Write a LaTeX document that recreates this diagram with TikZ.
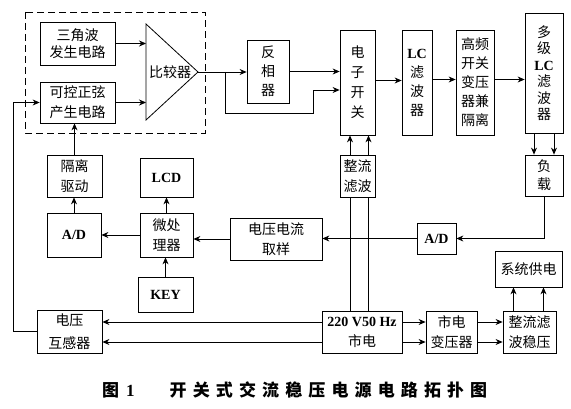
\documentclass[tikz,border=0pt]{standalone}
\usepackage{fontspec}
\newfontfamily\cjk{Noto Sans CJK SC}
\newfontfamily\latfont{Liberation Serif}
\newfontfamily\capfont{Noto Sans CJK SC}[LetterSpace=36]
\usetikzlibrary{arrows.meta, calc}

\begin{document}
\begin{tikzpicture}[x=1pt,y=-1pt]

\tikzstyle{feed}  = [->,>={Stealth[length=7pt,width=6pt]},thick]
\tikzstyle{wire}  = [thick]
\tikzstyle{myblock}  = [
  rectangle,
  draw,
  thick,
  inner sep=0pt,
  align=center,
  font=\cjk\fontsize{14}{20}\selectfont]

\def\en#1{{\latfont\bfseries\fontsize{14}{\the\baselineskip}\selectfont #1}}
\def\blk#1#2#3#4#5#6#7{\node(#5)[myblock,
  minimum width={(#3-#1)*1pt}, minimum height={(#4-#2)*1pt}, #7]
  at ({(#1+#3)/2},{(#2+#4)/2}) {#6};}

\useasboundingbox (0,0) rectangle (571,409);

\draw[thick,dash pattern=on 7pt off 4pt] (25,12) rectangle (205,133);

\blk{40}{22}{115}{65}{tri}{三角波\\发生电路}{font=\cjk\fontsize{14}{17}\selectfont}
\blk{40}{82}{115}{123}{sine}{可控正弦\\产生电路}{}

\draw[thick] (146,24) -- (198,72) -- (146,120) -- cycle;
\coordinate (cin) at (146,72);
\coordinate (cout) at (198,72);
\node(cmp)[font=\cjk\fontsize{14}{20}\selectfont] at (170,72) {比较器};

\blk{247}{40}{289}{103}{inv}{反\\相\\器}{font=\cjk\fontsize{14}{19}\selectfont}
\blk{340}{30}{375}{135}{eswitch}{电\\子\\开\\关}{}
\blk{402}{30}{432}{135}{lc}{\en{LC}\\滤\\波\\器}{font=\cjk\fontsize{14}{19}\selectfont}
\blk{456}{30}{494}{135}{hf}{高频\\开关\\变压\\器兼\\隔离}{font=\cjk\fontsize{14}{19}\selectfont}
\blk{525}{13}{563}{133}{mlc}{多\\级\\\en{LC}\\滤\\波\\器}{font=\cjk\fontsize{14}{16.5}\selectfont}
\blk{525}{155}{563}{196}{load}{负\\载}{font=\cjk\fontsize{14}{18}\selectfont}

\blk{340}{155}{375}{197}{rect1}{整流\\滤波}{}
\blk{417}{223}{456}{254}{adR}{\en{A/D}}{}
\blk{230}{218}{322}{260}{samp}{电压电流\\取样}{}
\blk{140}{213}{193}{257}{mcu}{微处\\理器}{}
\blk{47}{213}{101}{257}{adL}{\en{A/D}}{}
\blk{47}{155}{102}{197}{iso}{隔离\\驱动}{}
\blk{140}{158}{193}{197}{lcd}{\en{LCD}}{}
\blk{138}{277}{193}{312}{key}{\en{KEY}}{}

\blk{37}{310}{102}{353}{pt}{电压\\互感器}{font=\cjk\fontsize{14}{23}\selectfont}
\blk{322}{311}{402}{353}{mains}{\en{220 V50 Hz}\\市电}{}
\blk{426}{311}{477}{353}{mtr}{市电\\变压器}{}
\blk{503}{311}{556}{353}{rect2}{整流滤\\波稳压}{}
\blk{495}{251}{562}{287}{sys}{系统供电}{}

\draw[feed] (tri.east) -- (tri.east -| cin);
\draw[feed] (sine.east) -- (sine.east -| cin);
\draw[feed] (cout) -- (cout -| inv.west);
\coordinate (br) at (225,72);
\draw[feed] (br) |- (313,113) |- (eswitch.west |- 0,90);
\draw[feed] (inv.east) -- (inv.east -| eswitch.west);
\draw[feed] ([yshift=2pt]eswitch.east) -- ([yshift=2pt]lc.west);
\draw[feed] ([yshift=3pt]lc.east) -- ([yshift=3pt]hf.west);
\draw[feed] ([yshift=3pt]hf.east) -- ([yshift=3pt]hf.east -| mlc.west);

\draw[feed] ([xshift=-10pt]mlc.south) -- ([xshift=-10pt]load.north);
\draw[feed] ([xshift=10pt]mlc.south) -- ([xshift=10pt]load.north);
\draw[feed] (load.south) |- (adR.east);
\draw[feed] (adR.west) -- (adR.west -| samp.east);
\draw[feed] (samp.west) -- (samp.west -| mcu.east);
\draw[feed] (mcu.west) -- (mcu.west -| adL.east);
\draw[feed] (adL.north) -- (adL.north |- iso.south);
\draw[feed] (iso.north) -- (iso.north |- sine.south);
\draw[feed] (mcu.north) -- (mcu.north |- lcd.south);
\draw[feed] (key.north) -- (key.north |- mcu.south);

\coordinate (fb) at (13,330);
\draw[feed] (pt.west) -| (fb |- sine.west) -- (sine.west);

\draw[feed] ([yshift=10pt]mains.west) -- ([yshift=10pt]mains.west -| pt.east);
\draw[feed] ([yshift=-10pt]mains.west) -- ([yshift=-10pt]mains.west -| pt.east);
\draw[wire] ([xshift=-7.5pt]rect1.south) -- ([xshift=-7.5pt]rect1.south |- mains.north);
\draw[wire] ([xshift=11pt]rect1.south) -- ([xshift=11pt]rect1.south |- mains.north);
\draw[feed] ([xshift=-7.5pt]rect1.north) -- ([xshift=-7.5pt]rect1.north |- eswitch.south);
\draw[feed] ([xshift=11pt]rect1.north) -- ([xshift=11pt]rect1.north |- eswitch.south);

\draw[feed] ([yshift=10pt]mains.east) -- ([yshift=10pt]mains.east -| mtr.west);
\draw[feed] ([yshift=-10pt]mains.east) -- ([yshift=-10pt]mains.east -| mtr.west);
\draw[feed] ([yshift=10pt]mtr.east) -- ([yshift=10pt]mtr.east -| rect2.west);
\draw[feed] ([yshift=-10pt]mtr.east) -- ([yshift=-10pt]mtr.east -| rect2.west);
\draw[feed] ([xshift=-16pt]rect2.north) -- ([xshift=-16pt]rect2.north |- sys.south);
\draw[feed] ([xshift=14pt]rect2.north) -- ([xshift=14pt]rect2.north |- sys.south);

\node(cap)[anchor=west,inner sep=0pt,font=\capfont\bfseries\fontsize{17}{20}\selectfont] at (102,390) {图\hspace{7pt}{\latfont 1}\hspace{35pt}开关式交流稳压电源电路拓扑图};

\end{tikzpicture}
\end{document}
